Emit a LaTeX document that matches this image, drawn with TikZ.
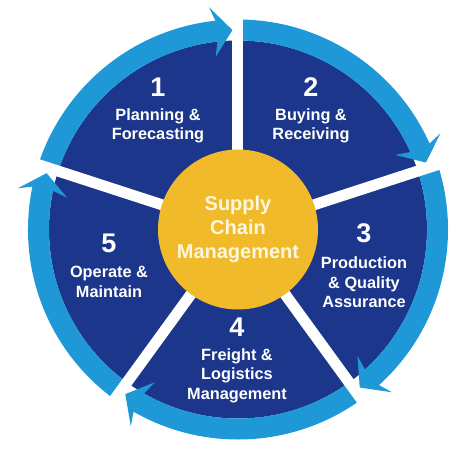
\documentclass[tikz,border=0pt]{standalone}
\usepackage{fontspec}
\setmainfont{Liberation Sans}
\definecolor{piecolor}{RGB}{27,54,138}
\definecolor{ringcolor}{RGB}{30,152,215}
\definecolor{hubcolor}{RGB}{240,186,42}
\definecolor{hubtextcolor}{RGB}{255,247,222}

\begin{document}
\begin{tikzpicture}[x=1pt, y=1pt,
    ring/.style={draw=ringcolor, line width=21pt},
    head/.style={fill=ringcolor},
    gap/.style={draw=white, line width=11pt},
    hub/.style={circle, fill=hubcolor, minimum size=160pt, inner sep=0pt, align=center,
        text=hubtextcolor, font=\bfseries\fontsize{20}{24}\selectfont},
    stagenum/.style={text=white, inner sep=0pt, font=\bfseries\fontsize{27}{30}\selectfont},
    stagetext/.style={text=white, inner sep=0pt, align=center, font=\bfseries\fontsize{16.3}{19.5}\selectfont}]
    \useasboundingbox (-238,-231.5) rectangle (236,229.5);

    % Pie
    \fill[piecolor] (0,0) circle (189);

    % Outer arrows, clockwise
    \foreach \g in {90,18,-54,-126,-198} {
        \draw[ring] ({\g+72}:199.5) arc[start angle=\g+72, end angle=\g+6, radius=199.5];
        \fill[head] ({\g+1.6}:199.5) -- ({\g+7.4}:224) -- ({\g+6.2}:210)
            -- ({\g+6.2}:189) -- ({\g+7.4}:174) -- cycle;
    }

    % Gaps between the stages
    \foreach \g in {90,18,-54,-126,162}
        \draw[gap] (0,0) -- (\g:215);

    % Hub
    \node[hub] (scm) at (0,0) {Supply\\Chain\\Management};

    % Stages
    \node[stagenum] (n1) at (-80,142) {1};
    \node[stagetext] (t1) at (-80,103.6) {Planning \&\\Forecasting};
    \node[stagenum] (n2) at (73,142) {2};
    \node[stagetext] (t2) at (73,103.6) {Buying \&\\Receiving};
    \node[stagenum] (n3) at (126,-4) {3};
    \node[stagetext] (t3) at (126,-52.7) {Production\\\& Quality\\Assurance};
    \node[stagenum] (n4) at (-1,-98) {4};
    \node[stagetext] (t4) at (-1,-146.2) {Freight \&\\Logistics\\Management};
    \node[stagenum] (n5) at (-129,-14) {5};
    \node[stagetext] (t5) at (-129,-52.5) {Operate \&\\Maintain};
\end{tikzpicture}
\end{document}
